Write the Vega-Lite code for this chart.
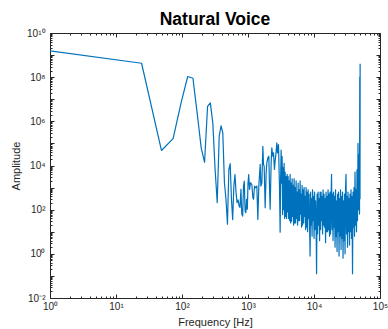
{
 "$schema": "https://vega.github.io/schema/vega-lite/v6.json",
 "width": 330,
 "height": 265,
 "autosize": {"type": "none"},
 "padding": {"left": 50, "top": 33, "right": 8, "bottom": 31},
 "background": "white",
 "title": {"text": "Natural Voice", "fontSize": 17.5, "font": "Liberation Sans", "fontWeight": "bold", "color": "#000000", "offset": 0, "anchor": "middle"},
 "config": {"view": {"stroke": "#262626", "strokeWidth": 1}},
 "data": {"values": [
  {"f":1,"amp":1.55e9},{"f":24.41,"amp":4.27e8},{"f":48.83,"amp":4.8e4},{"f":73.24,"amp":1.66e5},{"f":97.66,"amp":7.6e6},
  {"f":122.1,"amp":1.07e8},{"f":146.5,"amp":8.9e7},{"f":170.9,"amp":2.0e6},{"f":195.3,"amp":6.3e4},{"f":219.7,"amp":1.4e4},
  {"f":244.1,"amp":4.8e6},{"f":268.6,"amp":6.8e6},{"f":293.0,"amp":8.5e5},{"f":317.4,"amp":6600},{"f":341.8,"amp":209},
  {"f":366.2,"amp":2.1e5},{"f":390.6,"amp":6.3e5},{"f":415.0,"amp":3.0e5},{"f":439.5,"amp":1660},{"f":463.9,"amp":295},
  {"f":488.3,"amp":22},{"f":512.7,"amp":6600},{"f":537.1,"amp":12300},{"f":561.5,"amp":295},{"f":585.9,"amp":35},
  {"f":610.4,"amp":1170},{"f":634.8,"amp":3900},{"f":659.2,"amp":589},{"f":683.6,"amp":209},{"f":708.0,"amp":275},
  {"f":732.4,"amp":148},{"f":756.8,"amp":126},{"f":781.3,"amp":832},{"f":805.7,"amp":63},{"f":830.1,"amp":51},
  {"f":854.5,"amp":1170},{"f":878.9,"amp":1950},{"f":903.3,"amp":87},{"f":927.7,"amp":72},{"f":952.1,"amp":295},
  {"f":976.6,"amp":105},{"f":1001,"amp":1660},{"f":1025,"amp":3900},
  {"f":1055,"amp":832},{"f":1092,"amp":1660},{"f":1143,"amp":1380},{"f":1185,"amp":347},{"f":1213,"amp":295},
  {"f":1256,"amp":1175},{"f":1300,"amp":977},{"f":1361,"amp":1175},{"f":1409,"amp":36},{"f":1459,"amp":1175},
  {"f":1530,"amp":11200},{"f":1566,"amp":1175},{"f":1621,"amp":1660},{"f":1679,"amp":74100},{"f":1718,"amp":11200},
  {"f":1758,"amp":9330},{"f":1820,"amp":123},{"f":1884,"amp":4680},{"f":1928,"amp":13200},{"f":1998,"amp":22400},
  {"f":2068,"amp":26300},{"f":2116,"amp":1175},{"f":2166,"amp":105},{"f":2243,"amp":13200},{"f":2295,"amp":63100},
  {"f":2377,"amp":26300},{"f":2432,"amp":37200},{"f":2518,"amp":6610},{"f":2577,"amp":15800},{"f":2671,"amp":44700},
  {"f":2733,"amp":105000},{"f":2797,"amp":37200},{"f":2897,"amp":89100},{"f":2999,"amp":1175},
  {"f":3069,"amp":9.5},{"f":3123,"amp":3160},{"f":3178,"amp":50100},{"f":3234,"amp":1580},{"f":3290,"amp":25100},
  {"f":3348,"amp":60},{"f":3407,"amp":7940},{"f":3467,"amp":100},{"f":3528,"amp":12600},{"f":3590,"amp":40},
  {"f":3653,"amp":5010},{"f":3717,"amp":50},{"f":3782,"amp":3160},{"f":3849,"amp":40},{"f":3916,"amp":3980},
  {"f":3985,"amp":79},{"f":4055,"amp":3160},{"f":4126,"amp":40},{"f":4199,"amp":2000},{"f":4273,"amp":32},
  {"f":4348,"amp":3980},{"f":4424,"amp":25},{"f":4502,"amp":1580},{"f":4581,"amp":30},{"f":4662,"amp":2510},
  {"f":4744,"amp":50},{"f":4827,"amp":1260},{"f":4912,"amp":20},{"f":4998,"amp":2510},{"f":5086,"amp":25},
  {"f":5175,"amp":1000},{"f":5266,"amp":25},{"f":5358,"amp":2000},{"f":5452,"amp":40},{"f":5548,"amp":631},
  {"f":5646,"amp":20},{"f":5745,"amp":1580},{"f":5846,"amp":32},{"f":5948,"amp":794},{"f":6053,"amp":32},
  {"f":6159,"amp":2000},{"f":6267,"amp":63},{"f":6377,"amp":501},{"f":6489,"amp":16},{"f":6603,"amp":1260},
  {"f":6719,"amp":20},{"f":6837,"amp":794},{"f":6957,"amp":25},{"f":7079,"amp":1000},{"f":7204,"amp":50},
  {"f":7331,"amp":398},{"f":7460,"amp":12.6},{"f":7591,"amp":1000},{"f":7724,"amp":16},{"f":7860,"amp":631},
  {"f":7998,"amp":10},{"f":8138,"amp":794},{"f":8281,"amp":40},{"f":8426,"amp":501},{"f":8574,"amp":16},
  {"f":8725,"amp":0.79},{"f":8878,"amp":631},{"f":9034,"amp":20},{"f":9193,"amp":316},{"f":9354,"amp":6.3},
  {"f":9518,"amp":794},{"f":9685,"amp":32},{"f":9855,"amp":398},{"f":10028,"amp":5},{"f":10204,"amp":631},
  {"f":10385,"amp":12.6},{"f":10567,"amp":251},{"f":10753,"amp":25},{"f":10942,"amp":0.126},{"f":11134,"amp":501},
  {"f":11329,"amp":7.9},{"f":11528,"amp":631},{"f":11730,"amp":20},{"f":11936,"amp":316},{"f":12146,"amp":4},
  {"f":12360,"amp":631},
  {"f":12577,"amp":12.6},{"f":12798,"amp":631},{"f":13023,"amp":32},{"f":13252,"amp":398},{"f":13485,"amp":7.9},
  {"f":13722,"amp":794},{"f":13963,"amp":20},{"f":14208,"amp":501},{"f":14458,"amp":16},{"f":14712,"amp":316},
  {"f":14970,"amp":3.2},{"f":15233,"amp":631},{"f":15501,"amp":10},{"f":15773,"amp":398},{"f":16050,"amp":10},
  {"f":16332,"amp":794},{"f":16619,"amp":12},{"f":16911,"amp":501},{"f":17208,"amp":6.3},{"f":17510,"amp":631},
  {"f":17818,"amp":8},{"f":18131,"amp":316},{"f":18449,"amp":3980},{"f":18773,"amp":12.6},{"f":19103,"amp":501},
  {"f":19439,"amp":4},{"f":19780,"amp":631},{"f":20128,"amp":16},{"f":20481,"amp":398},{"f":20841,"amp":2},
  {"f":21207,"amp":794},{"f":21580,"amp":6},{"f":21959,"amp":251},{"f":22345,"amp":1.26},{"f":22737,"amp":501},
  {"f":23137,"amp":10},{"f":23543,"amp":631},{"f":23957,"amp":0.79},{"f":24378,"amp":316},{"f":24806,"amp":6.3},
  {"f":25242,"amp":794},{"f":25685,"amp":1.58},{"f":26136,"amp":398},{"f":26595,"amp":5},{"f":27063,"amp":631},
  {"f":27538,"amp":0.63},{"f":28022,"amp":251},{"f":28514,"amp":4},{"f":29015,"amp":501},{"f":29525,"amp":1},
  {"f":30043,"amp":794},{"f":30571,"amp":3980},{"f":31108,"amp":7.9},{"f":31654,"amp":398},{"f":32210,"amp":2},
  {"f":32776,"amp":631},{"f":33352,"amp":10},{"f":33938,"amp":316},{"f":34534,"amp":2.5},{"f":35141,"amp":501},
  {"f":35758,"amp":10},{"f":36386,"amp":794},{"f":37025,"amp":5},{"f":37676,"amp":398},{"f":38337,"amp":0.126},
  {"f":39011,"amp":631},{"f":39696,"amp":16},{"f":40393,"amp":1000},{"f":41103,"amp":6.3},{"f":41825,"amp":5010},
  {"f":42560,"amp":20},{"f":43307,"amp":794},{"f":44068,"amp":10},{"f":44842,"amp":6310},{"f":45630,"amp":32},
  {"f":46431,"amp":100000},{"f":47247,"amp":100},{"f":48077,"amp":31600},{"f":48921,"amp":63},{"f":49350,"amp":1e8},
  {"f":49780,"amp":316},{"f":50000,"amp":4e8}
 ]},
 "layer": [
  {
   "mark": {"type": "line", "color": "#0072BD", "strokeWidth": 1.2, "strokeJoin": "round", "clip": true},
   "encoding": {
    "x": {"field": "f", "type": "quantitative", "scale": {"type": "log", "domain": [1, 100000], "nice": false},
     "axis": {"orient": "bottom", "domain": false, "grid": false,
      "values": [1,2,3,4,5,6,7,8,9,10,20,30,40,50,60,70,80,90,100,200,300,400,500,600,700,800,900,1000,2000,3000,4000,5000,6000,7000,8000,9000,10000,20000,30000,40000,50000,60000,70000,80000,90000,100000],
      "labelExpr": "indexof([1,10,100,1000,10000,100000], datum.value) >= 0 ? '10' + ['⁰','¹','²','³','⁴','⁵'][indexof([1,10,100,1000,10000,100000], datum.value)] : ''",
      "tickSize": {"condition": {"test": "indexof([1,10,100,1000,10000,100000], datum.value) >= 0", "value": -4}, "value": -2},
      "tickColor": "#262626", "labelColor": "#262626", "labelFont": "Liberation Sans", "labelFontSize": 10,
      "labelPadding": 7, "labelOverlap": false, "labelFlush": false,
      "title": "Frequency [Hz]", "titleFont": "Liberation Sans", "titleFontSize": 11, "titleFontWeight": "normal", "titleColor": "#262626", "titlePadding": 3}},
    "y": {"field": "amp", "type": "quantitative", "scale": {"type": "log", "domain": [0.01, 1e10], "nice": false},
     "axis": {"orient": "left", "domain": false, "grid": false,
      "values": [0.01,0.02,0.03,0.04,0.05,0.06,0.07,0.08,0.09,0.1,0.2,0.3,0.4,0.5,0.6,0.7,0.8,0.9,1,2,3,4,5,6,7,8,9,10,20,30,40,50,60,70,80,90,100,200,300,400,500,600,700,800,900,1000,2000,3000,4000,5000,6000,7000,8000,9000,10000,20000,30000,40000,50000,60000,70000,80000,90000,1e5,2e5,3e5,4e5,5e5,6e5,7e5,8e5,9e5,1e6,2e6,3e6,4e6,5e6,6e6,7e6,8e6,9e6,1e7,2e7,3e7,4e7,5e7,6e7,7e7,8e7,9e7,1e8,2e8,3e8,4e8,5e8,6e8,7e8,8e8,9e8,1e9,2e9,3e9,4e9,5e9,6e9,7e9,8e9,9e9,1e10],
      "labelExpr": "indexof([0.01,1,100,10000,1000000,100000000,10000000000], datum.value) >= 0 ? '10' + ['⁻²','⁰','²','⁴','⁶','⁸','¹⁰'][indexof([0.01,1,100,10000,1000000,100000000,10000000000], datum.value)] : ''",
      "tickSize": {"condition": {"test": "indexof([0.01,0.1,1,10,100,1000,10000,100000,1000000,10000000,100000000,1000000000,10000000000], datum.value) >= 0", "value": -4}, "value": -2},
      "tickColor": "#262626", "labelColor": "#262626", "labelFont": "Liberation Sans", "labelFontSize": 10,
      "labelPadding": 9, "labelOverlap": false, "labelFlush": false,
      "title": "Amplitude", "titleFont": "Liberation Sans", "titleFontSize": 11, "titleFontWeight": "normal", "titleColor": "#262626", "titlePadding": 5}}
   }
  },
  {
   "mark": {"type": "line", "strokeOpacity": 0},
   "encoding": {
    "x": {"field": "f", "type": "quantitative",
     "axis": {"orient": "top", "domain": false, "grid": false, "labels": false, "title": null,
      "values": [1,2,3,4,5,6,7,8,9,10,20,30,40,50,60,70,80,90,100,200,300,400,500,600,700,800,900,1000,2000,3000,4000,5000,6000,7000,8000,9000,10000,20000,30000,40000,50000,60000,70000,80000,90000,100000],
      "tickSize": {"condition": {"test": "indexof([1,10,100,1000,10000,100000], datum.value) >= 0", "value": -4}, "value": -2},
      "tickColor": "#262626"}},
    "y": {"field": "amp", "type": "quantitative",
     "axis": {"orient": "right", "domain": false, "grid": false, "labels": false, "title": null,
      "values": [0.01,0.02,0.03,0.04,0.05,0.06,0.07,0.08,0.09,0.1,0.2,0.3,0.4,0.5,0.6,0.7,0.8,0.9,1,2,3,4,5,6,7,8,9,10,20,30,40,50,60,70,80,90,100,200,300,400,500,600,700,800,900,1000,2000,3000,4000,5000,6000,7000,8000,9000,10000,20000,30000,40000,50000,60000,70000,80000,90000,1e5,2e5,3e5,4e5,5e5,6e5,7e5,8e5,9e5,1e6,2e6,3e6,4e6,5e6,6e6,7e6,8e6,9e6,1e7,2e7,3e7,4e7,5e7,6e7,7e7,8e7,9e7,1e8,2e8,3e8,4e8,5e8,6e8,7e8,8e8,9e8,1e9,2e9,3e9,4e9,5e9,6e9,7e9,8e9,9e9,1e10],
      "tickSize": {"condition": {"test": "indexof([0.01,0.1,1,10,100,1000,10000,100000,1000000,10000000,100000000,1000000000,10000000000], datum.value) >= 0", "value": -4}, "value": -2},
      "tickColor": "#262626"}}
   }
  }
 ],
 "resolve": {"axis": {"x": "independent", "y": "independent"}}
}
